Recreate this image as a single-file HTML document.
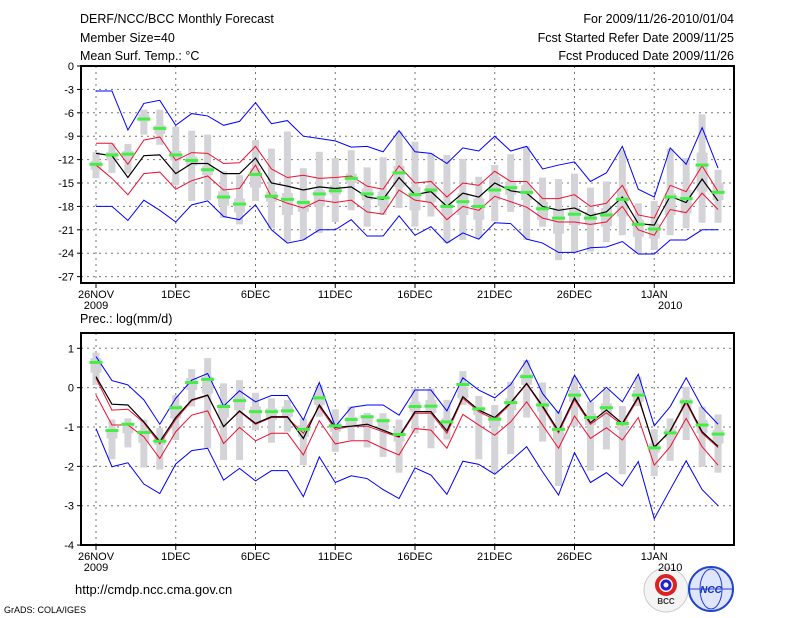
<!DOCTYPE html>
<html><head><meta charset="utf-8"><style>
html,body{margin:0;padding:0;background:#fff;}
svg{display:block;font-family:"Liberation Sans",sans-serif;}
</style></head><body>
<svg id="chart" width="800" height="618" viewBox="0 0 800 618" xmlns="http://www.w3.org/2000/svg">
<rect width="800" height="618" fill="#fff"/>
<g font-size="12.5" fill="#000">
<text x="80" y="23">DERF/NCC/BCC Monthly Forecast</text>
<text x="80" y="42">Member Size=40</text>
<text x="80" y="60">Mean Surf. Temp.: °C</text>
<text x="734" y="23" text-anchor="end">For 2009/11/26-2010/01/04</text>
<text x="734" y="42" text-anchor="end">Fcst Started Refer Date 2009/11/25</text>
<text x="734" y="60" text-anchor="end">Fcst Produced Date 2009/11/26</text>
<text x="80" y="323">Prec.: log(mm/d)</text>
<text x="75" y="594" font-size="13">http://cmdp.ncc.cma.gov.cn</text>
<text x="4" y="613" font-size="9">GrADS: COLA/IGES</text>
</g>
<g>
<circle cx="666" cy="590" r="22" fill="#f4f4f4" stroke="#ccc"/>
<circle cx="666" cy="585" r="9" fill="none" stroke="#d22" stroke-width="4"/>
<circle cx="666" cy="585" r="4" fill="none" stroke="#22c" stroke-width="3"/>
<text x="666" y="604" font-size="8" text-anchor="middle" font-weight="bold" fill="#333">BCC</text>
</g>
<g>
<circle cx="711" cy="589" r="22" fill="#dfe4ff" stroke="#24c" stroke-width="2"/>
<ellipse cx="711" cy="589" rx="11" ry="20" fill="none" stroke="#24c"/>
<line x1="690" y1="589" x2="732" y2="589" stroke="#24c"/>
<text x="711" y="593" font-size="10" text-anchor="middle" font-style="italic" font-weight="bold" fill="#13b">NCC</text>
</g>
<g id="plots"></g>
</svg>
<script>
// ---- Temperature panel data (days Nov26 .. Jan4) ----
const dayLabels = ["26NOV","1DEC","6DEC","11DEC","16DEC","21DEC","26DEC","1JAN"];
const tTicks = [0,-3,-6,-9,-12,-15,-18,-21,-24,-27];
const pTicks = [1,0,-1,-2,-3,-4];
const tMax = [-3.2,-3.2,-8.2,-4.8,-4.4,-7.6,-6.1,-6.4,-7.6,-7.1,-4.7,-7.4,-7.0,-9.0,-9.3,-9.6,-10.4,-10.3,-11.0,-8.3,-11.0,-11.2,-12.5,-10.5,-10.9,-9.0,-10.9,-10.3,-13.2,-12.7,-12.3,-14.8,-13.7,-10.3,-15.8,-16.8,-10.5,-12.6,-7.9,-13.1];
const tHi = [-9.9,-9.9,-12.6,-9.5,-9.1,-12.1,-11.1,-11.2,-12.5,-12.4,-10.3,-13.2,-14.3,-14.0,-14.4,-14.3,-14.1,-15.4,-15.8,-12.8,-15.0,-14.8,-16.8,-15.0,-15.3,-13.5,-14.8,-14.8,-17.0,-17.0,-16.5,-18.0,-17.6,-15.3,-19.1,-19.5,-15.3,-16.1,-12.8,-16.1];
const tMean = [-11.2,-11.5,-14.3,-11.5,-11.4,-13.8,-12.5,-12.5,-13.8,-13.8,-11.8,-15.0,-15.4,-15.9,-15.5,-15.7,-15.5,-16.8,-17.1,-14.3,-16.5,-16.1,-18.0,-16.3,-16.8,-15.0,-16.0,-16.3,-18.0,-18.5,-18.2,-19.2,-18.7,-16.8,-20.2,-20.4,-16.7,-17.5,-14.5,-17.3];
const tLo = [-12.7,-14.4,-16.5,-13.8,-13.6,-15.8,-14.7,-14.1,-15.9,-15.7,-12.7,-16.8,-17.6,-18.2,-17.2,-17.5,-17.2,-18.7,-19.0,-15.9,-17.2,-17.5,-19.7,-18.0,-18.5,-16.7,-17.4,-18.1,-19.5,-20.0,-20.0,-20.3,-20.0,-18.0,-21.0,-21.7,-18.4,-18.8,-16.3,-18.4];
const tMin = [-18.0,-18.0,-19.8,-17.2,-18.5,-20.0,-17.8,-17.3,-19.3,-19.7,-17.8,-21.0,-22.7,-22.3,-21.0,-21.0,-19.7,-21.8,-21.8,-19.2,-21.7,-20.6,-22.7,-21.4,-22.2,-20.1,-20.2,-22.2,-22.7,-23.9,-23.9,-23.3,-23.2,-22.5,-24.1,-24.1,-22.3,-22.3,-21.0,-21.0];
const tGreen = [-12.6,-11.4,-11.3,-6.8,-8.0,-11.4,-12.1,-13.3,-16.8,-17.7,-13.9,-16.7,-17.1,-17.5,-16.4,-16.0,-14.4,-16.4,-16.9,-13.7,-16.5,-15.9,-18.0,-17.4,-18.0,-15.9,-15.6,-16.2,-18.3,-19.5,-19.0,-19.5,-19.1,-17.1,-20.3,-20.9,-16.8,-17.0,-12.7,-16.2];
const tBarTop = [-11.0,-9.9,-10.0,-5.6,-5.6,-7.8,-8.3,-8.8,-13.5,-14.0,-9.5,-10.6,-8.4,-13.1,-11.0,-11.8,-10.8,-13.0,-11.7,-8.4,-9.7,-11.2,-11.4,-11.9,-14.2,-12.7,-11.3,-10.3,-14.3,-14.5,-13.8,-15.6,-14.8,-10.8,-17.6,-17.3,-10.6,-11.8,-6.2,-13.3];
const tBarBot = [-14.4,-13.7,-13.8,-8.8,-10.1,-15.3,-17.3,-17.2,-19.5,-20.3,-17.3,-20.8,-22.5,-22.3,-21.4,-20.0,-18.5,-20.6,-19.1,-18.2,-20.6,-19.3,-22.7,-22.3,-22.1,-19.9,-18.7,-22.3,-20.6,-24.9,-24.0,-23.8,-22.6,-21.7,-24.0,-23.6,-21.7,-20.8,-20.1,-20.1];
const tBoxTop = [-12.2,-11.0,-10.9,-6.2,-7.6,-10.9,-11.6,-12.8,-16.1,-17.0,-13.1,-16.1,-16.3,-17.2,-15.9,-15.3,-13.8,-15.7,-16.1,-12.8,-15.5,-15.3,-17.4,-16.3,-17.0,-14.2,-14.8,-15.3,-17.4,-18.2,-18.2,-18.7,-18.2,-15.7,-19.7,-20.2,-16.3,-15.9,-11.1,-15.0];
const tBoxBot = [-13.3,-12.1,-11.8,-7.1,-8.7,-12.1,-12.8,-14.0,-17.9,-18.8,-15.6,-17.4,-19.1,-18.7,-18.0,-16.5,-15.0,-17.2,-18.0,-15.5,-18.5,-17.4,-19.1,-19.1,-19.7,-17.2,-16.5,-17.2,-19.7,-21.5,-20.4,-20.4,-20.6,-19.3,-21.9,-22.1,-19.1,-18.9,-16.1,-17.2];
// ---- Precipitation panel data ----
const pMax = [0.79,0.18,0.07,-0.31,-0.93,-0.27,0.19,0.36,-0.47,-0.08,-0.36,-0.20,-0.20,-0.82,0.13,-0.99,-0.50,-0.44,-0.44,-0.70,-0.06,-0.06,-0.59,0.25,-0.06,-0.26,0.08,0.70,-0.15,-0.65,0.32,-0.36,0.01,-0.36,0.34,-0.97,-0.48,0.25,-0.50,-0.93];
const pHi = [0.24,-0.57,-0.55,-0.89,-1.43,-0.81,-0.33,-0.20,-0.99,-0.61,-0.93,-0.76,-0.76,-1.16,-0.48,-1.06,-0.98,-0.98,-1.12,-1.26,-0.65,-0.65,-1.16,-0.27,-0.61,-0.81,-0.40,0.09,-0.50,-1.15,-0.31,-0.93,-0.64,-0.95,-0.27,-1.50,-1.12,-0.38,-1.16,-1.52];
const pMean = [0.28,-0.42,-0.44,-0.87,-1.37,-0.76,-0.31,-0.19,-0.99,-0.59,-0.91,-0.74,-0.74,-1.29,-0.44,-1.01,-0.98,-0.93,-1.08,-1.24,-0.61,-0.61,-1.10,-0.23,-0.57,-0.76,-0.38,0.11,-0.47,-1.10,-0.26,-0.89,-0.57,-0.91,-0.23,-1.52,-1.10,-0.34,-1.12,-1.49];
const pLo = [-0.19,-0.95,-0.95,-1.25,-1.80,-1.12,-0.70,-0.59,-1.42,-1.01,-1.35,-1.16,-1.16,-1.71,-0.84,-1.43,-1.35,-1.35,-1.54,-1.71,-1.04,-1.08,-1.54,-0.68,-0.95,-1.21,-0.87,-0.36,-0.95,-1.54,-0.72,-1.29,-1.02,-1.33,-0.76,-1.97,-1.50,-0.78,-1.50,-1.97];
const pMin = [-1.04,-2.01,-1.91,-2.45,-2.69,-1.94,-1.60,-1.54,-2.35,-2.05,-2.37,-2.11,-2.11,-2.77,-1.76,-2.41,-2.24,-2.31,-2.59,-2.82,-2.04,-2.22,-2.71,-1.87,-1.95,-2.20,-1.86,-1.50,-2.14,-2.73,-1.65,-2.41,-2.16,-2.50,-1.88,-3.33,-2.59,-1.86,-2.59,-3.00];
const pGreen = [0.64,-1.09,-0.93,-1.14,-1.36,-0.51,0.13,0.21,-0.48,-0.33,-0.61,-0.61,-0.59,-1.06,-0.26,-0.97,-0.81,-0.74,-0.84,-1.19,-0.48,-0.47,-0.87,0.08,-0.54,-0.80,-0.38,0.28,-0.44,-1.06,-0.19,-0.76,-0.51,-0.91,-0.19,-1.53,-1.15,-0.36,-0.95,-1.18];
const pBarTop = [0.89,-0.81,-0.78,-0.81,-1.02,-0.19,0.47,0.75,0.11,0.19,-0.13,-0.27,-0.31,-0.78,0.07,-0.55,-0.48,-0.64,-0.65,-0.81,-0.04,-0.02,-0.31,0.42,-0.21,-0.44,0.15,0.70,0.13,-0.59,0.26,-0.36,-0.04,-0.47,0.28,-1.06,-0.78,0.02,-0.48,-0.68];
const pBarBot = [0.07,-1.82,-1.52,-2.03,-2.08,-1.33,-0.48,-1.54,-1.84,-1.84,-1.08,-1.40,-1.12,-1.97,-0.74,-1.63,-1.33,-1.52,-1.76,-2.16,-1.16,-1.54,-1.32,-0.44,-1.82,-2.14,-1.69,-0.76,-1.37,-2.50,-0.99,-2.11,-1.57,-2.20,-0.47,-2.25,-1.86,-1.33,-2.01,-2.16];
const pBoxTop = [0.75,-1.04,-0.91,-1.08,-1.21,-0.44,0.24,0.28,-0.42,-0.23,-0.48,-0.53,-0.48,-0.95,-0.15,-0.87,-0.74,-0.70,-0.78,-1.04,-0.36,-0.31,-0.78,0.02,-0.48,-0.70,-0.27,0.36,-0.36,-0.95,-0.06,-0.65,-0.40,-0.82,-0.06,-1.42,-1.04,-0.27,-0.82,-1.08];
const pBoxBot = [0.38,-1.29,-1.16,-1.40,-1.46,-0.78,-0.06,-0.15,-0.76,-0.57,-0.87,-0.82,-0.74,-1.25,-0.44,-1.12,-0.99,-0.95,-1.08,-1.37,-0.61,-0.65,-0.99,-0.27,-0.70,-0.99,-0.57,0.07,-0.61,-1.33,-0.36,-0.95,-0.74,-1.08,-0.36,-1.65,-1.29,-0.53,-1.16,-1.42];

const NS = "http://www.w3.org/2000/svg";
const root = document.getElementById("plots");
function mk(tag, attrs, parent){ const e=document.createElementNS(NS,tag); for(const k in attrs) e.setAttribute(k,attrs[k]); (parent||root).appendChild(e); return e; }
const xDay = d => 96 + d*15.95;

function panel(cfg){
  const g = mk("g",{});
  
  
  const y = v => cfg.y0 + (cfg.v0 - v) * cfg.k;
  const L=81, R=734;
  // grid
  cfg.ticks.forEach(t=>{
    const yy=y(t);
    if (yy>cfg.top+1 && yy<cfg.bot-1) mk("line",{x1:L,x2:R,y1:yy,y2:yy,stroke:"#777","stroke-width":1,"stroke-dasharray":"2,4"},g);
    mk("line",{x1:L-4,x2:L,y1:yy,y2:yy,stroke:"#000"},g);
    const tx = mk("text",{x:L-7,y:yy+4,"font-size":11,"text-anchor":"end"},g);
    tx.textContent = t;
    
    
  });
  dayLabels.forEach((lab,i)=>{
    const xx = xDay(i*5);
    mk("line",{x1:xx,x2:xx,y1:cfg.top,y2:cfg.bot,stroke:"#777","stroke-dasharray":"2,4"},g);
    mk("line",{x1:xx,x2:xx,y1:cfg.bot,y2:cfg.bot+5,stroke:"#000"},g);
    const tx = mk("text",{x:xx,y:cfg.bot+15,"font-size":11,"text-anchor":"middle"},g);
    tx.textContent = lab;
    
    
  });
  const y1 = mk("text",{x:xDay(0),y:cfg.bot+26,"font-size":11,"text-anchor":"middle"},g); y1.textContent="2009";
  
  
  const y2 = mk("text",{x:xDay(36),y:cfg.bot+26,"font-size":11,"text-anchor":"middle"},g); y2.textContent="2010";
  
  
  // bars
  cfg.barTop.forEach((v,i)=>{
    const xx=xDay(i);
    const b = mk("rect",{x:xx-3.5,y:y(v),width:7,height:y(cfg.barBot[i])-y(v),fill:"#d4d4d8"},g);
    
    
    const bx = mk("rect",{x:xx-5.5,y:y(cfg.boxTop[i]),width:11,height:y(cfg.boxBot[i])-y(cfg.boxTop[i]),fill:"#d4d4d8"},g);
    
    
  });
  const line=(arr,col,w,name)=>{
    const p = mk("polyline",{points:arr.map((v,i)=>xDay(i)+","+y(v)).join(" "),fill:"none",stroke:col,"stroke-width":w},g);
    
    
  };
  line(cfg.max,"#0000ff",1,"max-line");
  line(cfg.min,"#0000ff",1,"min-line");
  line(cfg.hi,"#ee1133",1,"upper-line");
  line(cfg.lo,"#ee1133",1,"lower-line");
  line(cfg.mean,"#000",1.2,"mean-line");
  cfg.green.forEach((v,i)=>{
    const m = mk("rect",{x:xDay(i)-6.5,y:y(v)-1.5,width:13,height:3,fill:"#44ee44"},g);
    
    
  });
  const fr = mk("rect",{x:L,y:cfg.top,width:R-L,height:cfg.bot-cfg.top,fill:"none",stroke:"#000","stroke-width":2},g);
  
  
}
panel({name:"temperature-panel",top:66,bot:283,y0:66,v0:0,k:23.4/3,ticks:tTicks,
  barTop:tBarTop,barBot:tBarBot,boxTop:tBoxTop,boxBot:tBoxBot,max:tMax,min:tMin,hi:tHi,lo:tLo,mean:tMean,green:tGreen});
panel({name:"precipitation-panel",top:333,bot:545,y0:348.3,v0:1,k:39.35,ticks:pTicks,
  barTop:pBarTop,barBot:pBarBot,boxTop:pBoxTop,boxBot:pBoxBot,max:pMax,min:pMin,hi:pHi,lo:pLo,mean:pMean,green:pGreen});
</script>
</body></html>
